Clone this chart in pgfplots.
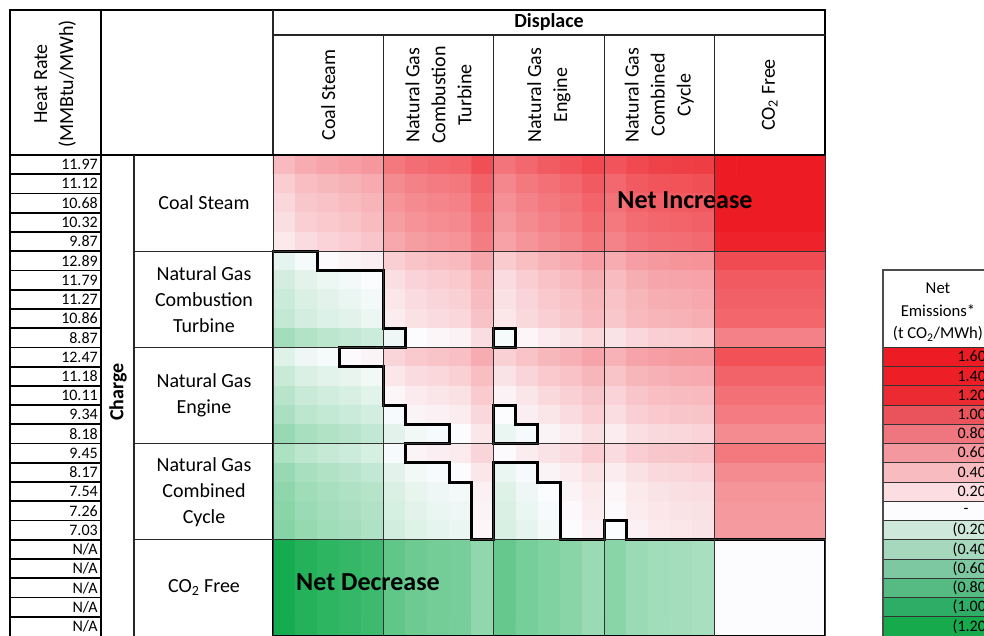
\documentclass[border=0pt]{standalone}
\usepackage{pgfplots}
\pgfplotsset{compat=1.18}
\usepackage{fontspec}
\setmainfont{Carlito}
\definecolor{L1}{RGB}{237,28,36}
\definecolor{L2}{RGB}{237,30,38}
\definecolor{L3}{RGB}{236,42,50}
\definecolor{L4}{RGB}{234,82,92}
\definecolor{L5}{RGB}{239,117,126}
\definecolor{L6}{RGB}{243,152,158}
\definecolor{L7}{RGB}{247,187,192}
\definecolor{L8}{RGB}{251,221,226}
\definecolor{L9}{RGB}{252,252,255}
\definecolor{L10}{RGB}{206,233,219}
\definecolor{L11}{RGB}{166,216,190}
\definecolor{L12}{RGB}{126,200,161}
\definecolor{L13}{RGB}{86,186,131}
\definecolor{L14}{RGB}{46,173,102}
\definecolor{L15}{RGB}{22,170,76}
\newcommand\fa{\fontsize{15}{19.5}\selectfont}
\newcommand\fb{\fontsize{12}{14}\selectfont}
\newcommand\fc{\fontsize{13}{17}\selectfont}
\begin{document}
\begin{tikzpicture}
\begin{axis}[
  at={(204.75pt,-116.25pt)}, anchor=north west,
  scale only axis, width=414pt, height=360.75pt,
  xmin=-0.5, xmax=24.5, ymin=-0.5, ymax=24.5, y dir=reverse,
  clip=false, axis on top,
  xtick={4.5,9.5,14.5,19.5}, ytick={4.5,9.5,14.5,19.5},
  xticklabels={}, yticklabels={}, major tick length=0pt,
  grid=major, major grid style={black!80, line width=0.75pt},
  axis line style={black!80, line width=0.75pt},
  colormap={heat}{rgb255(0pt)=(20,172,78); rgb255(102pt)=(252,252,255); rgb255(217pt)=(237,28,36)},
  point meta min=-1.02, point meta max=1.15,
]
\addplot[matrix plot*, mesh/cols=25, point meta=explicit] coordinates {
(0,0)[0.34] (1,0)[0.41] (2,0)[0.45] (3,0)[0.48] (4,0)[0.52] (5,0)[0.67] (6,0)[0.73] (7,0)[0.76] (8,0)[0.78] (9,0)[0.89] (10,0)[0.70] (11,0)[0.76] (12,0)[0.82] (13,0)[0.86] (14,0)[0.92] (15,0)[0.86] (16,0)[0.92] (17,0)[0.96] (18,0)[0.97] (19,0)[0.98] (20,0)[1.36] (21,0)[1.36] (22,0)[1.36] (23,0)[1.36] (24,0)[1.36]
(0,1)[0.24] (1,1)[0.32] (2,1)[0.35] (3,1)[0.38] (4,1)[0.42] (5,1)[0.58] (6,1)[0.63] (7,1)[0.66] (8,1)[0.68] (9,1)[0.79] (10,1)[0.60] (11,1)[0.67] (12,1)[0.72] (13,1)[0.76] (14,1)[0.83] (15,1)[0.76] (16,1)[0.83] (17,1)[0.86] (18,1)[0.87] (19,1)[0.89] (20,1)[1.26] (21,1)[1.26] (22,1)[1.26] (23,1)[1.26] (24,1)[1.26]
(0,2)[0.19] (1,2)[0.27] (2,2)[0.30] (3,2)[0.33] (4,2)[0.37] (5,2)[0.53] (6,2)[0.58] (7,2)[0.61] (8,2)[0.63] (9,2)[0.74] (10,2)[0.55] (11,2)[0.62] (12,2)[0.67] (13,2)[0.71] (14,2)[0.78] (15,2)[0.71] (16,2)[0.78] (17,2)[0.81] (18,2)[0.82] (19,2)[0.84] (20,2)[1.21] (21,2)[1.21] (22,2)[1.21] (23,2)[1.21] (24,2)[1.21]
(0,3)[0.15] (1,3)[0.23] (2,3)[0.26] (3,3)[0.29] (4,3)[0.33] (5,3)[0.49] (6,3)[0.54] (7,3)[0.57] (8,3)[0.59] (9,3)[0.70] (10,3)[0.51] (11,3)[0.58] (12,3)[0.63] (13,3)[0.67] (14,3)[0.74] (15,3)[0.67] (16,3)[0.74] (17,3)[0.77] (18,3)[0.78] (19,3)[0.80] (20,3)[1.17] (21,3)[1.17] (22,3)[1.17] (23,3)[1.17] (24,3)[1.17]
(0,4)[0.10] (1,4)[0.17] (2,4)[0.21] (3,4)[0.24] (4,4)[0.28] (5,4)[0.43] (6,4)[0.49] (7,4)[0.52] (8,4)[0.54] (9,4)[0.65] (10,4)[0.46] (11,4)[0.53] (12,4)[0.58] (13,4)[0.62] (14,4)[0.69] (15,4)[0.62] (16,4)[0.69] (17,4)[0.72] (18,4)[0.73] (19,4)[0.75] (20,4)[1.12] (21,4)[1.12] (22,4)[1.12] (23,4)[1.12] (24,4)[1.12]
(0,5)[-0.10] (1,5)[-0.03] (2,5)[0.01] (3,5)[0.04] (4,5)[0.07] (5,5)[0.23] (6,5)[0.29] (7,5)[0.32] (8,5)[0.34] (9,5)[0.44] (10,5)[0.25] (11,5)[0.32] (12,5)[0.38] (13,5)[0.42] (14,5)[0.48] (15,5)[0.41] (16,5)[0.48] (17,5)[0.51] (18,5)[0.53] (19,5)[0.54] (20,5)[0.91] (21,5)[0.91] (22,5)[0.91] (23,5)[0.91] (24,5)[0.91]
(0,6)[-0.18] (1,6)[-0.11] (2,6)[-0.07] (3,6)[-0.04] (4,6)[-0.004] (5,6)[0.15] (6,6)[0.21] (7,6)[0.24] (8,6)[0.26] (9,6)[0.36] (10,6)[0.17] (11,6)[0.24] (12,6)[0.30] (13,6)[0.34] (14,6)[0.40] (15,6)[0.33] (16,6)[0.40] (17,6)[0.44] (18,6)[0.45] (19,6)[0.46] (20,6)[0.83] (21,6)[0.83] (22,6)[0.83] (23,6)[0.83] (24,6)[0.83]
(0,7)[-0.22] (1,7)[-0.15] (2,7)[-0.11] (3,7)[-0.08] (4,7)[-0.04] (5,7)[0.11] (6,7)[0.17] (7,7)[0.20] (8,7)[0.22] (9,7)[0.33] (10,7)[0.14] (11,7)[0.20] (12,7)[0.26] (13,7)[0.30] (14,7)[0.36] (15,7)[0.30] (16,7)[0.36] (17,7)[0.40] (18,7)[0.41] (19,7)[0.43] (20,7)[0.80] (21,7)[0.80] (22,7)[0.80] (23,7)[0.80] (24,7)[0.80]
(0,8)[-0.25] (1,8)[-0.18] (2,8)[-0.14] (3,8)[-0.11] (4,8)[-0.07] (5,8)[0.08] (6,8)[0.14] (7,8)[0.17] (8,8)[0.19] (9,8)[0.30] (10,8)[0.11] (11,8)[0.18] (12,8)[0.23] (13,8)[0.27] (14,8)[0.34] (15,8)[0.27] (16,8)[0.34] (17,8)[0.37] (18,8)[0.38] (19,8)[0.40] (20,8)[0.77] (21,8)[0.77] (22,8)[0.77] (23,8)[0.77] (24,8)[0.77]
(0,9)[-0.39] (1,9)[-0.32] (2,9)[-0.28] (3,9)[-0.25] (4,9)[-0.21] (5,9)[-0.06] (6,9)[0.002] (7,9)[0.03] (8,9)[0.05] (9,9)[0.16] (10,9)[-0.03] (11,9)[0.03] (12,9)[0.09] (13,9)[0.13] (14,9)[0.19] (15,9)[0.13] (16,9)[0.19] (17,9)[0.23] (18,9)[0.24] (19,9)[0.26] (20,9)[0.63] (21,9)[0.63] (22,9)[0.63] (23,9)[0.63] (24,9)[0.63]
(0,10)[-0.13] (1,10)[-0.06] (2,10)[-0.03] (3,10)[0.01] (4,10)[0.04] (5,10)[0.20] (6,10)[0.26] (7,10)[0.29] (8,10)[0.31] (9,10)[0.41] (10,10)[0.22] (11,10)[0.29] (12,10)[0.35] (13,10)[0.39] (14,10)[0.45] (15,10)[0.38] (16,10)[0.45] (17,10)[0.48] (18,10)[0.50] (19,10)[0.51] (20,10)[0.88] (21,10)[0.88] (22,10)[0.88] (23,10)[0.88] (24,10)[0.88]
(0,11)[-0.23] (1,11)[-0.15] (2,11)[-0.12] (3,11)[-0.09] (4,11)[-0.05] (5,11)[0.11] (6,11)[0.17] (7,11)[0.19] (8,11)[0.22] (9,11)[0.32] (10,11)[0.13] (11,11)[0.20] (12,11)[0.26] (13,11)[0.30] (14,11)[0.36] (15,11)[0.29] (16,11)[0.36] (17,11)[0.39] (18,11)[0.41] (19,11)[0.42] (20,11)[0.79] (21,11)[0.79] (22,11)[0.79] (23,11)[0.79] (24,11)[0.79]
(0,12)[-0.30] (1,12)[-0.23] (2,12)[-0.19] (3,12)[-0.16] (4,12)[-0.12] (5,12)[0.03] (6,12)[0.09] (7,12)[0.12] (8,12)[0.14] (9,12)[0.25] (10,12)[0.05] (11,12)[0.12] (12,12)[0.18] (13,12)[0.22] (14,12)[0.28] (15,12)[0.21] (16,12)[0.28] (17,12)[0.32] (18,12)[0.33] (19,12)[0.34] (20,12)[0.72] (21,12)[0.72] (22,12)[0.72] (23,12)[0.72] (24,12)[0.72]
(0,13)[-0.36] (1,13)[-0.28] (2,13)[-0.25] (3,13)[-0.22] (4,13)[-0.18] (5,13)[-0.02] (6,13)[0.04] (7,13)[0.06] (8,13)[0.08] (9,13)[0.19] (10,13)[-0.001] (11,13)[0.07] (12,13)[0.12] (13,13)[0.17] (14,13)[0.23] (15,13)[0.16] (16,13)[0.23] (17,13)[0.26] (18,13)[0.28] (19,13)[0.29] (20,13)[0.66] (21,13)[0.66] (22,13)[0.66] (23,13)[0.66] (24,13)[0.66]
(0,14)[-0.44] (1,14)[-0.37] (2,14)[-0.33] (3,14)[-0.30] (4,14)[-0.26] (5,14)[-0.11] (6,14)[-0.05] (7,14)[-0.02] (8,14)[0.002] (9,14)[0.11] (10,14)[-0.08] (11,14)[-0.02] (12,14)[0.04] (13,14)[0.08] (14,14)[0.15] (15,14)[0.08] (16,14)[0.15] (17,14)[0.18] (18,14)[0.19] (19,14)[0.21] (20,14)[0.58] (21,14)[0.58] (22,14)[0.58] (23,14)[0.58] (24,14)[0.58]
(0,15)[-0.35] (1,15)[-0.28] (2,15)[-0.24] (3,15)[-0.21] (4,15)[-0.17] (5,15)[-0.02] (6,15)[0.04] (7,15)[0.07] (8,15)[0.09] (9,15)[0.20] (10,15)[0.01] (11,15)[0.08] (12,15)[0.13] (13,15)[0.17] (14,15)[0.24] (15,15)[0.17] (16,15)[0.24] (17,15)[0.27] (18,15)[0.28] (19,15)[0.30] (20,15)[0.67] (21,15)[0.67] (22,15)[0.67] (23,15)[0.67] (24,15)[0.67]
(0,16)[-0.44] (1,16)[-0.37] (2,16)[-0.33] (3,16)[-0.30] (4,16)[-0.26] (5,16)[-0.11] (6,16)[-0.05] (7,16)[-0.02] (8,16)[0.001] (9,16)[0.11] (10,16)[-0.08] (11,16)[-0.02] (12,16)[0.04] (13,16)[0.08] (14,16)[0.14] (15,16)[0.08] (16,16)[0.14] (17,16)[0.18] (18,16)[0.19] (19,16)[0.21] (20,16)[0.58] (21,16)[0.58] (22,16)[0.58] (23,16)[0.58] (24,16)[0.58]
(0,17)[-0.48] (1,17)[-0.41] (2,17)[-0.37] (3,17)[-0.34] (4,17)[-0.31] (5,17)[-0.15] (6,17)[-0.09] (7,17)[-0.06] (8,17)[-0.04] (9,17)[0.06] (10,17)[-0.13] (11,17)[-0.06] (12,17)[-0.003] (13,17)[0.04] (14,17)[0.10] (15,17)[0.03] (16,17)[0.10] (17,17)[0.13] (18,17)[0.15] (19,17)[0.16] (20,17)[0.53] (21,17)[0.53] (22,17)[0.53] (23,17)[0.53] (24,17)[0.53]
(0,18)[-0.50] (1,18)[-0.43] (2,18)[-0.39] (3,18)[-0.36] (4,18)[-0.33] (5,18)[-0.17] (6,18)[-0.11] (7,18)[-0.08] (8,18)[-0.06] (9,18)[0.04] (10,18)[-0.15] (11,18)[-0.08] (12,18)[-0.02] (13,18)[0.02] (14,18)[0.08] (15,18)[0.01] (16,18)[0.08] (17,18)[0.11] (18,18)[0.13] (19,18)[0.14] (20,18)[0.51] (21,18)[0.51] (22,18)[0.51] (23,18)[0.51] (24,18)[0.51]
(0,19)[-0.52] (1,19)[-0.45] (2,19)[-0.41] (3,19)[-0.38] (4,19)[-0.34] (5,19)[-0.19] (6,19)[-0.13] (7,19)[-0.10] (8,19)[-0.08] (9,19)[0.03] (10,19)[-0.16] (11,19)[-0.10] (12,19)[-0.04] (13,19)[0.002] (14,19)[0.06] (15,19)[-0.004] (16,19)[0.06] (17,19)[0.10] (18,19)[0.11] (19,19)[0.13] (20,19)[0.50] (21,19)[0.50] (22,19)[0.50] (23,19)[0.50] (24,19)[0.50]
(0,20)[-1.02] (1,20)[-0.95] (2,20)[-0.91] (3,20)[-0.88] (4,20)[-0.84] (5,20)[-0.68] (6,20)[-0.63] (7,20)[-0.60] (8,20)[-0.58] (9,20)[-0.47] (10,20)[-0.66] (11,20)[-0.59] (12,20)[-0.54] (13,20)[-0.50] (14,20)[-0.43] (15,20)[-0.50] (16,20)[-0.43] (17,20)[-0.40] (18,20)[-0.39] (19,20)[-0.37] (20,20)[0] (21,20)[0] (22,20)[0] (23,20)[0] (24,20)[0]
(0,21)[-1.02] (1,21)[-0.95] (2,21)[-0.91] (3,21)[-0.88] (4,21)[-0.84] (5,21)[-0.68] (6,21)[-0.63] (7,21)[-0.60] (8,21)[-0.58] (9,21)[-0.47] (10,21)[-0.66] (11,21)[-0.59] (12,21)[-0.54] (13,21)[-0.50] (14,21)[-0.43] (15,21)[-0.50] (16,21)[-0.43] (17,21)[-0.40] (18,21)[-0.39] (19,21)[-0.37] (20,21)[0] (21,21)[0] (22,21)[0] (23,21)[0] (24,21)[0]
(0,22)[-1.02] (1,22)[-0.95] (2,22)[-0.91] (3,22)[-0.88] (4,22)[-0.84] (5,22)[-0.68] (6,22)[-0.63] (7,22)[-0.60] (8,22)[-0.58] (9,22)[-0.47] (10,22)[-0.66] (11,22)[-0.59] (12,22)[-0.54] (13,22)[-0.50] (14,22)[-0.43] (15,22)[-0.50] (16,22)[-0.43] (17,22)[-0.40] (18,22)[-0.39] (19,22)[-0.37] (20,22)[0] (21,22)[0] (22,22)[0] (23,22)[0] (24,22)[0]
(0,23)[-1.02] (1,23)[-0.95] (2,23)[-0.91] (3,23)[-0.88] (4,23)[-0.84] (5,23)[-0.68] (6,23)[-0.63] (7,23)[-0.60] (8,23)[-0.58] (9,23)[-0.47] (10,23)[-0.66] (11,23)[-0.59] (12,23)[-0.54] (13,23)[-0.50] (14,23)[-0.43] (15,23)[-0.50] (16,23)[-0.43] (17,23)[-0.40] (18,23)[-0.39] (19,23)[-0.37] (20,23)[0] (21,23)[0] (22,23)[0] (23,23)[0] (24,23)[0]
(0,24)[-1.02] (1,24)[-0.95] (2,24)[-0.91] (3,24)[-0.88] (4,24)[-0.84] (5,24)[-0.68] (6,24)[-0.63] (7,24)[-0.60] (8,24)[-0.58] (9,24)[-0.47] (10,24)[-0.66] (11,24)[-0.59] (12,24)[-0.54] (13,24)[-0.50] (14,24)[-0.43] (15,24)[-0.50] (16,24)[-0.43] (17,24)[-0.40] (18,24)[-0.39] (19,24)[-0.37] (20,24)[0] (21,24)[0] (22,24)[0] (23,24)[0] (24,24)[0]
};
% zero contour (net emissions change sign)
\addplot[black, line width=2.2pt, line join=miter, mark=none] coordinates {(-0.5,4.5) (1.5,4.5) (1.5,5.5) (4.5,5.5) (4.5,8.5) (5.5,8.5) (5.5,9.5) (2.5,9.5) (2.5,10.5) (4.5,10.5) (4.5,12.5) (5.5,12.5) (5.5,13.5) (7.5,13.5) (7.5,14.5) (5.5,14.5) (5.5,15.5) (7.5,15.5) (7.5,16.5) (8.5,16.5) (8.5,19.5) (9.5,19.5) (9.5,15.5) (11.5,15.5) (11.5,16.5) (12.5,16.5) (12.5,19.5) (14.5,19.5) (14.5,18.5) (15.5,18.5) (15.5,19.5) (24.5,19.5) (24.5,24.5) (-0.5,24.5)} --cycle;
\addplot[black, line width=2.2pt, line join=miter, mark=none] coordinates {(9.5,8.5) (10.5,8.5) (10.5,9.5) (9.5,9.5)} --cycle;
\addplot[black, line width=2.2pt, line join=miter, mark=none] coordinates {(9.5,12.5) (10.5,12.5) (10.5,13.5) (11.5,13.5) (11.5,14.5) (9.5,14.5)} --cycle;
% legend swatches
\addplot[fill=L1, draw=black!80, line width=0.75pt] coordinates {(27.13,9.5) (32.2,9.5) (32.2,10.5) (27.13,10.5)} --cycle;
\addplot[fill=L2, draw=black!80, line width=0.75pt] coordinates {(27.13,10.5) (32.2,10.5) (32.2,11.5) (27.13,11.5)} --cycle;
\addplot[fill=L3, draw=black!80, line width=0.75pt] coordinates {(27.13,11.5) (32.2,11.5) (32.2,12.5) (27.13,12.5)} --cycle;
\addplot[fill=L4, draw=black!80, line width=0.75pt] coordinates {(27.13,12.5) (32.2,12.5) (32.2,13.5) (27.13,13.5)} --cycle;
\addplot[fill=L5, draw=black!80, line width=0.75pt] coordinates {(27.13,13.5) (32.2,13.5) (32.2,14.5) (27.13,14.5)} --cycle;
\addplot[fill=L6, draw=black!80, line width=0.75pt] coordinates {(27.13,14.5) (32.2,14.5) (32.2,15.5) (27.13,15.5)} --cycle;
\addplot[fill=L7, draw=black!80, line width=0.75pt] coordinates {(27.13,15.5) (32.2,15.5) (32.2,16.5) (27.13,16.5)} --cycle;
\addplot[fill=L8, draw=black!80, line width=0.75pt] coordinates {(27.13,16.5) (32.2,16.5) (32.2,17.5) (27.13,17.5)} --cycle;
\addplot[fill=L9, draw=black!80, line width=0.75pt] coordinates {(27.13,17.5) (32.2,17.5) (32.2,18.5) (27.13,18.5)} --cycle;
\addplot[fill=L10, draw=black!80, line width=0.75pt] coordinates {(27.13,18.5) (32.2,18.5) (32.2,19.5) (27.13,19.5)} --cycle;
\addplot[fill=L11, draw=black!80, line width=0.75pt] coordinates {(27.13,19.5) (32.2,19.5) (32.2,20.5) (27.13,20.5)} --cycle;
\addplot[fill=L12, draw=black!80, line width=0.75pt] coordinates {(27.13,20.5) (32.2,20.5) (32.2,21.5) (27.13,21.5)} --cycle;
\addplot[fill=L13, draw=black!80, line width=0.75pt] coordinates {(27.13,21.5) (32.2,21.5) (32.2,22.5) (27.13,22.5)} --cycle;
\addplot[fill=L14, draw=black!80, line width=0.75pt] coordinates {(27.13,22.5) (32.2,22.5) (32.2,23.5) (27.13,23.5)} --cycle;
\addplot[fill=L15, draw=black!80, line width=0.75pt] coordinates {(27.13,23.5) (32.2,23.5) (32.2,24.5) (27.13,24.5)} --cycle;
\end{axis}
\begin{scope}[x=0.75pt, y=-0.75pt]
% left table frame
\draw[black, line width=1.5pt] (10,636) -- (10,10) -- (825,10) -- (825,155);
\draw[black, line width=1.5pt] (101,10) -- (101,636);
\draw[black!85, line width=1pt] (273,10) -- (273,155);
\draw[black!85, line width=1pt] (273,35) -- (825,35);
\foreach \xx in {383.4,493.8,604.2,714.6} \draw[black!85, line width=0.9pt] (\xx,35) -- (\xx,155);
\draw[black, line width=1.2pt] (10,155) -- (825,155);
\foreach \k in {1,...,24} \draw[black, line width=1.3pt] (10,{155+\k*19.24}) -- (101,{155+\k*19.24});
\draw[black!85, line width=1pt] (134,155) -- (134,636);
\foreach \yy in {251.2,347.4,443.6,539.8} \draw[black!85, line width=1pt] (134,\yy) -- (273,\yy);
% legend frame
\draw[black!70, line width=0.9pt] (883,636) -- (883,270) -- (995,270);
% texts
\node[rotate=90, align=center, font=\fa, inner sep=0pt] at (55,84) {Heat Rate\\(MMBtu/MWh)};
\node[font=\fa\bfseries] at (549,22) {Displace};
\node[rotate=90, align=center, font=\fa, inner sep=0pt] at (328.2,95) {Coal Steam};
\node[rotate=90, align=center, font=\fa, inner sep=0pt] at (438.6,95) {Natural Gas\\Combustion\\Turbine};
\node[rotate=90, align=center, font=\fa, inner sep=0pt] at (549,95) {Natural Gas\\Engine};
\node[rotate=90, align=center, font=\fa, inner sep=0pt] at (659.4,95) {Natural Gas\\Combined\\Cycle};
\node[rotate=90, align=center, font=\fa, inner sep=0pt] at (769.8,95) {CO\textsubscript{2} Free};
\node[rotate=90, font=\fa\bfseries] at (118,392) {Charge};
\node[align=center, font=\fa] at (204,203.1) {Coal Steam};
\node[align=center, font=\fa] at (204,299.3) {Natural Gas\\Combustion\\Turbine};
\node[align=center, font=\fa] at (204,395.5) {Natural Gas\\Engine};
\node[align=center, font=\fa] at (204,491.7) {Natural Gas\\Combined\\Cycle};
\node[align=center, font=\fa] at (204,587.9) {CO\textsubscript{2} Free};
\foreach \v [count=\k from 0] in {11.97,11.12,10.68,10.32,9.87,12.89,11.79,11.27,10.86,8.87,12.47,11.18,10.11,9.34,8.18,9.45,8.17,7.54,7.26,7.03,N/A,N/A,N/A,N/A,N/A}
  \node[anchor=east, font=\fb, inner sep=0pt] at (98,{155+(\k+0.5)*19.24}) {\v};
\node[font=\fontsize{19.5}{22}\selectfont\bfseries] at (685,200) {Net Increase};
\node[font=\fontsize{19.5}{22}\selectfont\bfseries] at (368,582) {Net Decrease};
% legend texts
\node[align=center, font=\fontsize{12.5}{17}\selectfont] at (938,312) {Net\\Emissions*\\(t CO\textsubscript{2}/MWh)};
\foreach \v [count=\k from 0] in {1.60,1.40,1.20,1.00,0.80,0.60,0.40,0.20}
  \node[anchor=east, font=\fb, inner sep=0pt] at (991,{155+(10+\k+0.5)*19.24}) {\v\phantom{)}};
\node[font=\fb, inner sep=0pt] at (966,{155+(18.5)*19.24}) {-};
\foreach \v [count=\k from 0] in {0.20,0.40,0.60,0.80,1.00,1.20}
  \node[anchor=east, font=\fb, inner sep=0pt] at (991,{155+(19+\k+0.5)*19.24}) {(\v)};
\pgfresetboundingbox
\path[use as bounding box] (0,0) rectangle (984,635);
\end{scope}
\end{tikzpicture}
\end{document}
